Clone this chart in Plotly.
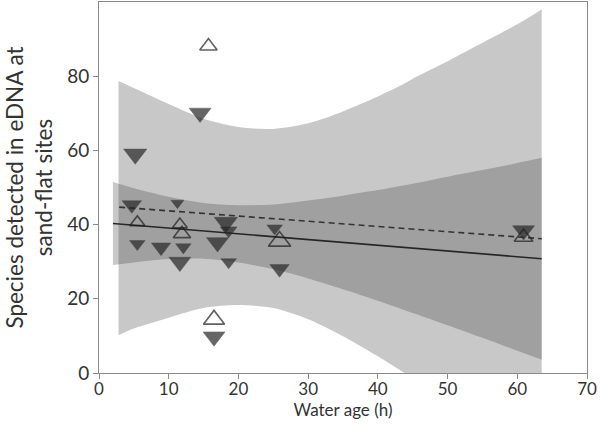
import plotly.graph_objects as go

# ---- data ----
# Filled (downward) triangles
filled_x = [4.7, 5.2, 5.5, 8.9, 11.25, 11.6, 12.1, 14.5, 16.5, 17.0, 18.2, 18.6, 18.6, 25.2, 25.9, 60.9]
filled_y = [45.3, 59.0, 34.8, 33.9, 45.8, 29.9, 33.9, 70.1, 9.8, 35.2, 40.6, 38.4, 29.9, 39.0, 28.1, 38.4]
filled_w = [15, 18, 12, 15, 10, 17, 12, 17, 17, 17, 18, 13, 12, 12, 15, 17]

# Open (upward) triangles
open_x = [5.5, 11.6, 11.9, 15.7, 16.5, 25.9, 60.9]
open_y = [40.6, 40.0, 37.5, 88.1, 14.4, 35.5, 36.6]
open_w = [12, 12, 14, 14, 17, 18, 15]

# Regression lines (end points)
solid_x = [2.0, 63.5]
solid_y = [40.3, 30.8]
dashed_x = [2.9, 63.5]
dashed_y = [44.7, 36.2]

# Outer (light) band around dashed line
outer_x = [2.8, 5, 10, 15, 20, 25, 30, 35, 40, 43.8, 45, 50, 55, 60, 63.5]
outer_hi = [78.7, 76.8, 72.5, 68.5, 66.3, 65.8, 67.3, 70.5, 74.5, 78.0, 79.3, 84.0, 89.0, 94.0, 98.0]
outer_lo = [10.2, 12.0, 14.9, 17.5, 18.3, 17.5, 14.5, 9.9, 4.5, 0.0, -1.5, -7.0, -14.0, -21.0, -26.0]

# Inner (dark) band around solid line
inner_x = [2, 5, 10, 15, 20, 25, 30, 35, 40, 45, 50, 55, 60, 63.5]
inner_hi = [51.5, 49.8, 47.5, 45.8, 45.2, 45.4, 46.5, 47.8, 49.3, 51.0, 52.9, 54.7, 56.6, 58.0]
inner_lo = [29.1, 29.8, 30.7, 30.8, 29.8, 28.0, 25.5, 22.6, 19.5, 16.2, 12.9, 9.5, 6.0, 3.6]

x_ticks = [0, 10, 20, 30, 40, 50, 60, 70]
y_ticks = [0, 20, 40, 60, 80]

band_fill = "rgba(52,52,56,0.27)"
ink = "#262626"
axis_col = "#8a8a8a"

fig = go.Figure()

def band(xs, hi, lo):
    edge = dict(width=0, shape="spline", smoothing=0.8)
    lower = go.Scatter(x=xs, y=lo, mode="lines", line=edge,
                       hoverinfo="skip", showlegend=False)
    upper = go.Scatter(x=xs, y=hi, mode="lines", line=edge,
                       fill="tonexty", fillcolor=band_fill,
                       hoverinfo="skip", showlegend=False)
    return [lower, upper]

for tr in band(outer_x, outer_hi, outer_lo) + band(inner_x, inner_hi, inner_lo):
    fig.add_trace(tr)

fig.add_trace(go.Scatter(x=dashed_x, y=dashed_y, mode="lines",
                         line=dict(color="#333333", width=1.6, dash="6px,4px"),
                         showlegend=False))
fig.add_trace(go.Scatter(x=solid_x, y=solid_y, mode="lines",
                         line=dict(color="#262626", width=1.6),
                         showlegend=False))

fig.add_trace(go.Scatter(
    x=filled_x, y=filled_y, mode="markers",
    marker=dict(symbol="triangle-down", size=[w * 1.12 for w in filled_w],
                color=ink, line=dict(width=0.5, color=ink)),
    showlegend=False))
fig.add_trace(go.Scatter(
    x=open_x, y=open_y, mode="markers",
    marker=dict(symbol="triangle-up-open", size=[w * 1.08 for w in open_w],
                color="#1e1e1e", line=dict(width=1.6, color="#1e1e1e")),
    showlegend=False))

fig.update_layout(
    width=600, height=430,
    margin=dict(l=99, r=13, t=2, b=57),
    paper_bgcolor="white", plot_bgcolor="white",
    font=dict(family="Lato", color="#333333"),
)
fig.update_xaxes(
    range=[0, 70], tickvals=x_ticks, ticks="outside", ticklen=5,
    tickcolor=axis_col, showline=True, linecolor=axis_col, linewidth=1,
    mirror=True, showgrid=False, zeroline=False, ticklabelstandoff=-4,
    tickfont=dict(size=17, color="#333333"),
    title=dict(text="Water age (h)", font=dict(size=17, color="#333333"), standoff=4))
fig.update_yaxes(
    range=[0, 100], tickvals=y_ticks, ticks="outside", ticklen=5,
    tickcolor=axis_col, showline=True, linecolor=axis_col, linewidth=1,
    mirror=True, showgrid=False, zeroline=False,
    tickfont=dict(size=19, color="#333333"),
    title=dict(text="Species detected in eDNA at<br>sand-flat sites",
               font=dict(size=22.5, color="#333333"), standoff=8))

fig.write_html("out.html", config={"displayModeBar": False},
               post_script="document.body.style.margin='0';document.body.style.overflow='hidden';")
